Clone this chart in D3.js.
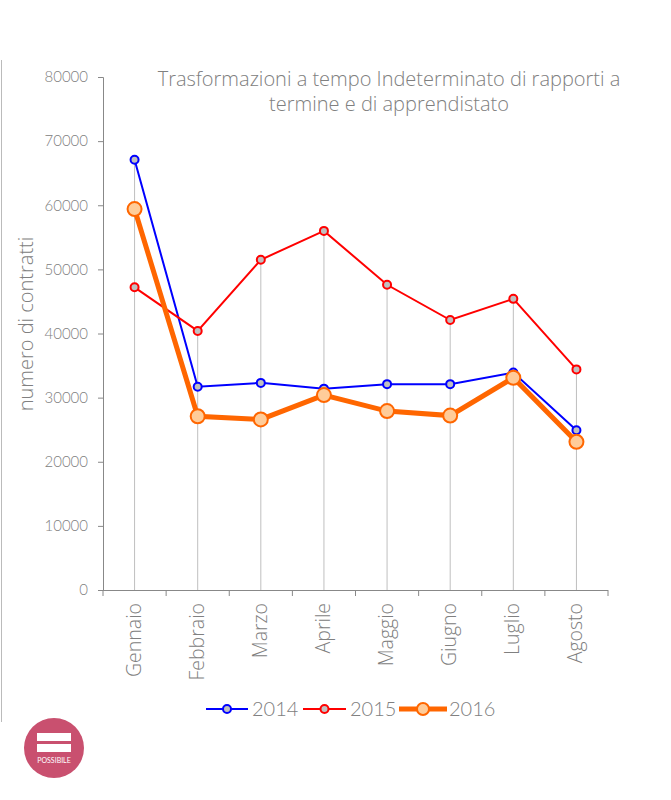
<!DOCTYPE html>
<html><head><meta charset="utf-8">
<script src="https://cdn.jsdelivr.net/npm/d3@7"></script>
<style>body{margin:0;background:#fff}svg{display:block}</style>
</head><body>
<script>
const months = ["Gennaio","Febbraio","Marzo","Aprile","Maggio","Giugno","Luglio","Agosto"];
const v2014 = [67100, 31700, 32300, 31400, 32100, 32100, 33900, 24900];
const v2015 = [47200, 40400, 51500, 56000, 47600, 42100, 45400, 34400];
const v2016 = [59400, 27100, 26600, 30400, 27900, 27200, 33100, 23100];
const yTicks = [0,10000,20000,30000,40000,50000,60000,70000,80000];
const titleLines = ["Trasformazioni a tempo Indeterminato di rapporti a","termine e di apprendistato"];

const W=671,H=800;
const OS="'Open Sans',sans-serif", LA="Lato,sans-serif";
const svg=d3.select("body").append("svg").attr("width",W).attr("height",H);
const x=d3.scaleBand().domain(months).range([103,608]);
const y=d3.scaleLinear().domain([0,80000]).range([590,77]);
const grey="#808080";

// left edge line
svg.append("line").attr("x1",1.5).attr("x2",1.5).attr("y1",60).attr("y2",722).attr("stroke","#bbb");

// drop lines
months.forEach((m,i)=>{
  const mx=Math.max(v2014[i],v2015[i],v2016[i]);
  svg.append("line").attr("x1",x(m)+x.bandwidth()/2).attr("x2",x(m)+x.bandwidth()/2)
    .attr("y1",y(mx)).attr("y2",y(0)).attr("stroke","#bfbfbf").attr("stroke-width",1);
});

// y axis
const ya=svg.append("g").attr("transform","translate(103,0)").call(d3.axisLeft(y).tickValues(yTicks).tickSize(5).tickPadding(10).tickFormat(d3.format("d")));
ya.selectAll("path,line").attr("stroke","#888");
ya.selectAll("text").attr("fill",grey).style("font-size","15px").style("font-family",LA).style("font-weight",300);

// x axis
const xa=svg.append("g").attr("transform","translate(0,590)").call(d3.axisBottom(x).tickSize(0).tickSizeOuter(0).tickFormat(""));
xa.select("path").attr("stroke","#888").attr("d","M98,0.5H608");
months.concat([null]).forEach((m,i)=>{
  const xx=m?x(m):x.range()[1];
  xa.append("line").attr("x1",xx).attr("x2",xx).attr("y1",0).attr("y2",6).attr("stroke","#888");
});
months.forEach(m=>{
  xa.append("text").attr("transform",`translate(${x(m)+x.bandwidth()/2+6},13) rotate(-90)`)
    .attr("text-anchor","end").attr("fill",grey).style("font-size","19.5px").style("font-family",OS).style("font-weight",300).text(m);
});

// y label
svg.append("text").attr("transform","translate(33,324) rotate(-90)").attr("text-anchor","middle")
  .attr("fill",grey).style("font-size","20px").style("font-family",OS).style("font-weight",300).text("numero di contratti");

// title
svg.append("text").attr("x",389).attr("y",86).attr("text-anchor","middle").attr("fill",grey)
  .style("font-size","20px").style("font-family",OS).style("font-weight",300)
  .selectAll("tspan").data(titleLines).join("tspan").attr("x",389).attr("dy",(d,i)=>i?25:0).text(d=>d);

const series=[
  {name:"2014",vals:v2014,color:"#0000ff",w:2,r:4,fill:"#c0c0c0"},
  {name:"2015",vals:v2015,color:"#ff0000",w:2,r:4,fill:"#c0c0c0"},
  {name:"2016",vals:v2016,color:"#ff6600",w:5,r:7,fill:"#ffcc99"}
];
const line=d3.line().x((d,i)=>x(months[i])+x.bandwidth()/2).y(d=>y(d));
series.forEach(s=>{
  svg.append("path").attr("d",line(s.vals)).attr("fill","none").attr("stroke",s.color).attr("stroke-width",s.w);
  svg.append("g").selectAll("circle").data(s.vals).join("circle")
    .attr("cx",(d,i)=>x(months[i])+x.bandwidth()/2).attr("cy",d=>y(d)).attr("r",s.r)
    .attr("fill",s.fill).attr("stroke",s.color).attr("stroke-width",2);
});

// legend
const lg=[{x0:206,x1:248,tx:252},{x0:303,x1:346,tx:350},{x0:399,x1:447,tx:449}];
series.forEach((s,i)=>{
  const l=lg[i],ly=709;
  svg.append("line").attr("x1",l.x0).attr("x2",l.x1).attr("y1",ly).attr("y2",ly).attr("stroke",s.color).attr("stroke-width",s.w);
  svg.append("circle").attr("cx",(l.x0+l.x1)/2).attr("cy",ly).attr("r",s.r===7?6:4).attr("fill",s.fill).attr("stroke",s.color).attr("stroke-width",2);
  svg.append("text").attr("x",l.tx).attr("y",ly+7).attr("fill",grey).style("font-size","20px").style("font-family",LA).style("font-weight",300).text(s.name);
});

// logo
const logo=svg.append("g").attr("transform","translate(54,748)");
logo.append("circle").attr("r",30).attr("fill","#c9506f");
logo.append("rect").attr("x",-17).attr("y",-15).attr("width",34).attr("height",8).attr("fill","#fff");
logo.append("rect").attr("x",-17).attr("y",-4).attr("width",34).attr("height",8).attr("fill","#fff");
logo.append("text").attr("y",15).attr("text-anchor","middle").attr("fill","#fff").style("font-size","7px").style("font-family",LA).text("POSSIBILE");
</script>
</body></html>
